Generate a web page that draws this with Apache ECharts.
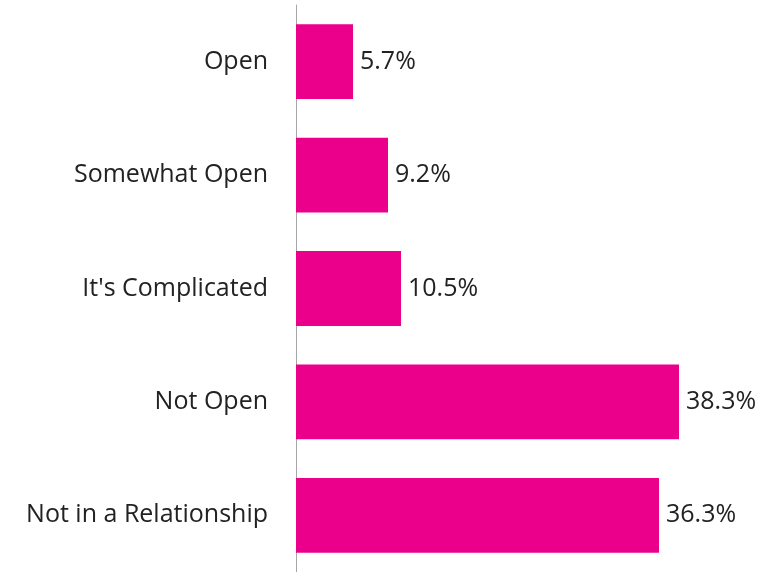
<!DOCTYPE html>
<html>
<head>
<meta charset="utf-8">
<script src="https://cdn.jsdelivr.net/npm/echarts@6/dist/echarts.min.js"></script>
<style>
  html, body { margin: 0; padding: 0; background: #fff; }
  #chart { width: 771px; height: 572px; }
</style>
</head>
<body>
<div id="chart"></div>
<script>
// categories top to bottom
const categories = ['Open', 'Somewhat Open', "It's Complicated", 'Not Open', 'Not in a Relationship']
const shares = [5.7, 9.2, 10.5, 38.3, 36.3]

const chart = echarts.init(document.getElementById('chart'))
chart.setOption({
  animation: false,
  grid: {
    top: 5,
    bottom: 0,
    left: 296,
    right: 75
  },
  xAxis: {
    type: 'value',
    min: 0,
    max: 40,
    show: false
  },
  yAxis: {
    type: 'category',
    data: categories,
    inverse: true,
    axisTick: { show: false },
    axisLine: {
      lineStyle: { color: '#a6a6a6', width: 1 }
    },
    axisLabel: {
      fontFamily: 'Open Sans',
      fontSize: 25,
      color: '#222',
      margin: 28
    }
  },
  series: [{
    type: 'bar',
    data: shares,
    barWidth: '66%',
    itemStyle: { color: '#ea008b' },
    label: {
      show: true,
      position: 'right',
      distance: 7,
      fontFamily: 'Open Sans',
      fontSize: 25,
      color: '#222',
      formatter: p => p.value.toFixed(1) + '%'
    }
  }]
})
</script>
</body>
</html>
